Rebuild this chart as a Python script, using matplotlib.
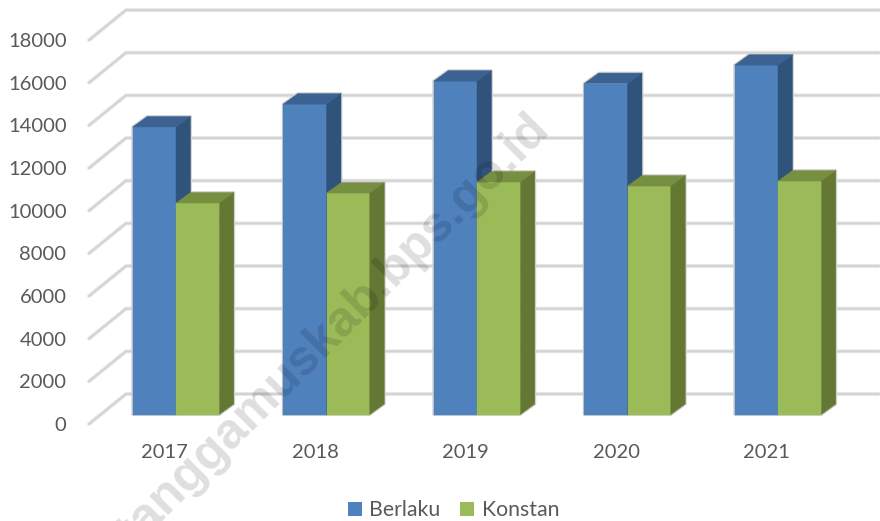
import matplotlib
matplotlib.use("Agg")
import matplotlib.pyplot as plt
from matplotlib.patches import Polygon, Patch

plt.rcParams['font.family'] = ['Lato', 'DejaVu Sans']

years = ['2017', '2018', '2019', '2020', '2021']
berlaku = [13480, 14550, 15630, 15515, 16380]
konstan = [9915, 10380, 10900, 10710, 10945]
y_ticks = [0, 2000, 4000, 6000, 8000, 10000, 12000, 14000, 16000, 18000]

# pixel scale of the fake 3d chart
px_x = 150.5      # pixels per category
px_y = 0.02133    # pixels per unit
x0_px = 176
y0_px = 414.5
W, H = 880, 521
bar_w = 43.3 / px_x
dx = 14.5 / px_x
dy = 10.5 / px_y


def make_bar(ax, x, val, front, top, side, z):
    # soft grey outline behind all the boxes
    outline = [(x, 0), (x + bar_w, 0), (x + bar_w + dx, dy), (x + bar_w + dx, val + dy), (x + dx, val + dy), (x, val)]
    ax.add_patch(Polygon(outline, facecolor='none', edgecolor='#d2d2d2', linewidth=2.0, joinstyle='round', zorder=2))
    ax.bar(x, val, width=bar_w, align='edge', color=front, edgecolor=front, linewidth=0.3, zorder=z)
    ax.add_patch(Polygon([(x, val), (x + bar_w, val), (x + bar_w + dx, val + dy), (x + dx, val + dy)],
                         facecolor=top, edgecolor=top, linewidth=0.3, zorder=z))
    ax.add_patch(Polygon([(x + bar_w, 0), (x + bar_w + dx, dy), (x + bar_w + dx, val + dy), (x + bar_w, val)],
                         facecolor=side, edgecolor=side, linewidth=0.3, zorder=z))


fig = plt.figure(figsize=(W / 100, H / 100), dpi=100)
ax = fig.add_axes([0, 0, 1, 1])
ax.set_xlim(-x0_px / px_x, (W - x0_px) / px_x)
ax.set_ylim((y0_px - H) / px_y, y0_px / px_y)
ax.axis('off')

# gridlines: back wall plus slanted side wall
back_off = 20.5 / px_y
front_off = -9.5 / px_y
xl_back = (126 - x0_px) / px_x
xl_front = (89 - x0_px) / px_x
xr = (879 - x0_px) / px_x
for v in y_ticks:
    xs = [xl_front, xl_back, xr]
    ys = [v + front_off, v + back_off, v + back_off]
    ax.plot(xs, ys, color='#e6e6e6', lw=2.8, solid_capstyle='round', zorder=1)
    ax.plot(xs, ys, color='#d2d2d2', lw=1.3, solid_capstyle='round', zorder=1.1)
    ax.text((66.5 - x0_px) / px_x, v + front_off - 1.5 / px_y, str(v), ha='right', va='center',
            fontsize=14.5, color='#595959')

for i in range(len(years)):
    make_bar(ax, i - bar_w, berlaku[i], '#4f81bd', '#3b6290', '#30537c', 3 + i)
    make_bar(ax, i, konstan[i], '#9bbb59', '#768f41', '#647733', 3.5 + i)
    ax.text(i - 11.5 / px_x, -38.5 / px_y, years[i], ha='center', va='center', fontsize=14.5, color='#595959')

# watermark, anchored at its right end so the left part runs off the page
ax.text((551 - x0_px) / px_x, (y0_px - 130) / px_y, 'http://tanggamuskab.bps.go.id', rotation=45,
        rotation_mode='anchor', ha='right', va='baseline', fontsize=36, fontweight='bold',
        family='Liberation Sans', color='black', alpha=0.13, zorder=20, clip_on=True)

handles = [Patch(facecolor='#4f81bd', label='Berlaku'), Patch(facecolor='#9bbb59', label='Konstan')]
fig.legend(handles=handles, loc='center', bbox_to_anchor=(453.5 / W, 1 - 510.5 / H), ncol=2, frameon=False,
           fontsize=15.3, labelcolor='#595959', handlelength=0.65, handleheight=0.65, handletextpad=0.35,
           columnspacing=0.95, borderpad=0, borderaxespad=0)

fig.savefig('out.png', dpi=100)
